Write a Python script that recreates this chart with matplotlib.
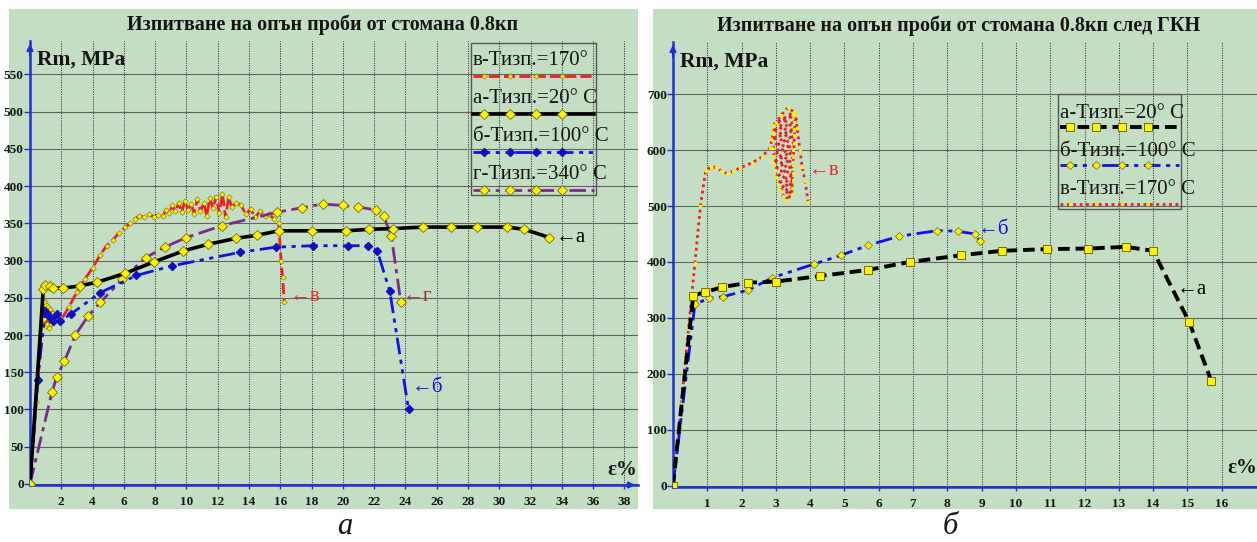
import numpy as np
import matplotlib.pyplot as plt
from matplotlib.patches import Rectangle
from matplotlib.lines import Line2D

plt.rcParams['font.family'] = ['Liberation Serif', 'DejaVu Serif']

W, H = 1257, 542
BG = '#C4DEC4'
AXIS = '#1F2FD8'
YEL = '#FFF200'
OLIVE = '#6E6E10'

# ---------------- panel a: steel 0.8kp ----------------
a_title = "Изпитване на опън проби от стомана 0.8кп"
a_xticks = list(range(2, 39, 2))
a_yticks = list(range(0, 551, 50))

# а - 20 C
a20_x = [0, 0.85, 0.97, 1.3, 1.5, 2.1, 3.2, 4.3, 6.1, 7.9, 9.8, 11.4, 13.2, 14.5, 15.9,
         18.0, 20.2, 21.7, 23.2, 25.1, 26.9, 28.6, 30.5, 31.6, 33.2]
a20_y = [0, 262, 267, 266, 263, 263, 266, 271, 283, 298, 313, 322, 330, 334, 340,
         340, 340, 342, 343, 345, 345, 345, 345, 342, 331]

# б - 100 C
a100_x = [0, 0.5, 0.96, 1.2, 1.5, 1.7, 1.9, 2.6, 4.5, 6.8, 9.1, 13.4, 15.7, 18.1, 20.3,
          21.6, 22.2, 23.0, 24.2]
a100_y = [0, 140, 232, 225, 219, 228, 219, 228, 257, 280, 293, 311, 318, 320, 320,
          320, 313, 259, 100]

# в - 170 C
a170_x = [0, 0.4, 0.75, 0.85, 0.9, 0.95, 1.0, 1.05, 1.1, 1.15,
          1.2, 1.3, 1.35, 1.45, 1.55, 1.65, 1.8, 2.0, 2.5, 3.0,
          3.5, 4.0, 4.5, 4.9, 5.3, 5.7, 6.1, 6.4, 6.7, 7.0,
          7.3, 7.6, 7.9, 8.2, 8.5, 8.7, 8.9, 9.1, 9.3, 9.5,
          9.7, 9.9, 10.1, 10.3, 10.5, 10.7, 10.9, 11.1, 11.3, 11.5,
          11.7, 11.9, 12.1, 12.3, 12.5, 12.7, 12.9, 13.2, 13.5, 13.8,
          14.1, 14.4, 14.7, 15.0, 15.3, 15.6, 15.9, 16.05, 16.15, 16.25]
a170_y = [0, 110, 215, 248, 222, 245, 212, 240, 215, 238,
          210, 235, 215, 230, 218, 228, 220, 221, 238, 258,
          275, 290, 308, 320, 328, 337, 345, 350, 356, 360,
          358, 362, 359, 361, 360, 368, 364, 374, 366, 377,
          365, 380, 368, 376, 363, 383, 366, 378, 360, 384,
          370, 386, 364, 390, 358, 385, 372, 378, 374, 362,
          369, 358, 366, 360, 362, 356, 350, 300, 278, 245]

# г - 340 C
a340_x = [0, 1.4, 1.7, 2.2, 2.9, 3.7, 4.5, 5.9, 7.4, 8.6, 10.0, 12.3, 15.8, 17.4, 18.7,
          20.0, 21.0, 22.1, 22.6, 23.1, 23.7]
a340_y = [0, 123, 143, 165, 200, 225, 244, 275, 304, 318, 331, 347, 365, 371, 376,
          374, 372, 368, 360, 333, 245]

# ---------------- panel б: after ГКН ----------------
b_title = "Изпитване на опън проби от стомана 0.8кп след ГКН"
b_xticks = list(range(1, 17))
b_yticks = list(range(0, 701, 100))

b20_x = [0, 0.59, 0.93, 1.43, 2.2, 3.0, 4.3, 5.7, 6.9, 8.4, 9.6, 10.9, 12.1, 13.2, 14.0,
         15.05, 15.7]
b20_y = [0, 340, 346, 355, 363, 365, 375, 386, 400, 412, 420, 423, 424, 427, 420,
         293, 187]

b100_x = [0, 0.64, 1.05, 1.46, 2.2, 2.9, 4.1, 4.9, 5.7, 6.6, 7.7, 8.3, 8.8, 8.95]
b100_y = [0, 325, 335, 338, 350, 372, 396, 412, 430, 446, 456, 455, 450, 437]

b170_x = [0, 0.25, 0.45, 0.64, 0.8, 0.95, 1.1, 1.25, 1.4, 1.57,
          1.75, 1.95, 2.3, 2.6, 2.83, 2.92, 3.0, 3.15, 3.35, 3.52,
          2.93, 3.5, 2.91, 3.52, 2.9, 3.52, 2.9, 3.52, 2.91, 3.52,
          2.93, 3.51, 2.96, 3.51, 3.0, 3.5, 3.06, 3.5, 3.13, 3.49,
          3.2, 3.48, 3.3, 3.46,
          3.57, 3.62, 3.7, 3.77, 3.85, 3.94]
b170_y = [0, 150, 280, 399, 500, 562, 570, 569, 563, 558,
          562, 568, 577, 588, 604, 628, 648, 662, 676, 668,
          645, 662, 632, 650, 618, 638, 604, 626, 590, 613,
          577, 600, 564, 587, 551, 573, 539, 559, 528, 546,
          518, 533, 511, 520,
          665, 640, 600, 569, 545, 508]

STY = {
    'a20': dict(color='black', lw=2.6, ls='-', marker='D', ms=4.6, mfc=YEL, mec=OLIVE, mew=0.6),
    'a100': dict(color='#1010E8', lw=2.0, ls=(0, (6, 2, 1.5, 2, 1.5, 2)), marker='D', ms=4.2,
                 mfc='#1010C0', mec='#1010C0'),
    'a170': dict(color='#F02020', lw=2.0, ls=(0, (4, 1.5)), marker='D', ms=2.8, mfc=YEL,
                 mec=OLIVE, mew=0.4),
    'a340': dict(color='#7A2A8A', lw=2.0, ls=(0, (6, 2, 1.5, 2)), marker='D', ms=4.6, mfc=YEL,
                 mec=OLIVE, mew=0.6),
    'b20': dict(color='black', lw=2.8, ls=(0, (3, 1.5)), marker='s', ms=5.5, mfc=YEL, mec=OLIVE,
                mew=0.7),
    'b100': dict(color='#1010E8', lw=2.0, ls=(0, (6, 2, 1.5, 2, 1.5, 2)), marker='D', ms=3.8,
                 mfc=YEL, mec=OLIVE, mew=0.5),
    'b170': dict(color='#E82020', lw=2.0, ls=(0, (1, 1.3)), marker='o', ms=2.5, mfc=YEL,
                 mec=YEL, mew=0),
}


def fx(px):
    return px / W


def fy(py):
    return 1 - py / H


def style_axes(ax, xlim, ylim, xticks, yticks):
    ax.set_xlim(*xlim)
    ax.set_ylim(*ylim)
    ax.set_facecolor('none')
    ax.spines['top'].set_visible(False)
    ax.spines['right'].set_visible(False)
    for s in ['left', 'bottom']:
        ax.spines[s].set_color(AXIS)
        ax.spines[s].set_linewidth(1.8)
    ax.set_xticks(xticks)
    ax.set_yticks(yticks)
    ax.xaxis.grid(True, color='#303030', lw=0.75, ls=(0, (1, 1.3)))
    ax.yaxis.grid(True, color='#626262', lw=0.8, ls='-')
    ax.set_axisbelow(True)
    ax.tick_params(axis='y', colors=AXIS, length=4, width=1, pad=0.5,
                   labelcolor='#151515', labelsize=9.5)
    ax.tick_params(axis='x', colors=AXIS, length=3, width=1, pad=5,
                   labelcolor='#151515', labelsize=9.5)
    for lab in ax.get_xticklabels() + ax.get_yticklabels():
        lab.set_fontweight('bold')
    ax.annotate('', xy=(0, 1.0), xycoords='axes fraction', xytext=(0, 0.96),
                arrowprops=dict(arrowstyle='-|>', color=AXIS, lw=1.5, mutation_scale=9),
                annotation_clip=False)


def draw_legend(ax, box, rows, txt_frac, line_frac):
    x0, y0, x1, y1 = box
    ax.add_patch(Rectangle((x0, y0), x1 - x0, y1 - y0, transform=ax.transAxes, fill=False,
                           ec='#555555', lw=1.0, zorder=6))
    h = (y1 - y0) / len(rows)
    w = x1 - x0
    for i, (label, key) in enumerate(rows):
        top = y1 - i * h
        ax.text(x0 + 0.003, top - h * txt_frac, label, transform=ax.transAxes, ha='left',
                va='center', fontsize=15, color='#151515', zorder=7)
        xs = [x0 + 0.004, x0 + w * 0.1, x0 + w * 0.31, x0 + w * 0.52, x0 + w * 0.73, x1 - 0.004]
        yl = top - h * line_frac
        ax.add_line(Line2D(xs, [yl] * len(xs), transform=ax.transAxes, markevery=[1, 2, 3, 4],
                           zorder=7, **STY[key]))


def main():
    fig = plt.figure(figsize=(W / 100, H / 100), dpi=100)
    fig.patch.set_facecolor('white')

    # green panels
    fig.add_artist(Rectangle((fx(9), fy(509)), fx(629), 500 / H, transform=fig.transFigure,
                             fc=BG, ec='none', zorder=0))
    fig.add_artist(Rectangle((fx(653), fy(509)), fx(604), 500 / H, transform=fig.transFigure,
                             fc=BG, ec='none', zorder=0))

    # ---- panel a ----
    axa = fig.add_axes([fx(30), fy(485), fx(608), 444 / H])
    style_axes(axa, (0, 38.87), (-1.5, 595), a_xticks, a_yticks)
    axa.plot(a170_x, a170_y, zorder=3, **STY['a170'])
    axa.plot(a340_x, a340_y, zorder=3, **STY['a340'])
    axa.plot(a100_x, a100_y, zorder=4, **STY['a100'])
    axa.plot(a20_x, a20_y, zorder=4, **STY['a20'])
    axa.text(33.6, 331, "←а", color='black', fontsize=15, va='center')
    axa.text(16.6, 252, "←в", color='#E03030', fontsize=15, va='center')
    axa.text(23.8, 252, "←г", color='#A83030', fontsize=15, va='center')
    axa.text(24.4, 129, "←б", color='#1010E8', fontsize=15, va='center')
    axa.annotate('', xy=(1.0, 0), xycoords='axes fraction', xytext=(0.98, 0),
                 arrowprops=dict(arrowstyle='-|>', color=AXIS, lw=1.5, mutation_scale=9),
                 annotation_clip=False)
    draw_legend(axa, ((471 - 30) / 608, (485 - 195) / 444, (596 - 30) / 608, (485 - 43) / 444),
                [("в-Тизп.=170°", 'a170'), ("а-Тизп.=20° С", 'a20'),
                 ("б-Тизп.=100° С", 'a100'), ("г-Тизп.=340° С", 'a340')], 0.47, 0.88)

    fig.text(fx(323), fy(25), a_title, ha='center', va='center', fontsize=14.5,
             fontweight='bold', color='#151515')
    fig.text(fx(37), fy(60), "Rm, MPa", ha='left', va='center', fontsize=15.5,
             fontweight='bold', color='#151515')
    fig.text(fx(607), fy(470), "ε%", ha='left', va='center', fontsize=15,
             fontweight='bold', color='#151515')
    fig.text(fx(345), fy(527), "а", ha='center', va='center', fontsize=22,
             style='italic', color='#151515')

    # ---- panel б ----
    axb = fig.add_axes([fx(673), fy(487), fx(584), 445 / H])
    style_axes(axb, (0, 17.03), (-2, 793), b_xticks, b_yticks)
    axb.plot(b170_x, b170_y, zorder=3, **STY['b170'])
    axb.plot(b100_x, b100_y, zorder=4, **STY['b100'])
    axb.plot(b20_x, b20_y, zorder=4, **STY['b20'])
    axb.text(3.97, 563, "←в", color='#E03030', fontsize=15, va='center')
    axb.text(8.9, 458, "←б", color='#1010E8', fontsize=15, va='center')
    axb.text(14.7, 351, "←а", color='black', fontsize=15, va='center')
    draw_legend(axb, ((1058 - 673) / 584, (487 - 209) / 445, (1181 - 673) / 584, (487 - 94) / 445),
                [("а-Тизп.=20° С", 'b20'), ("б-Тизп.=100° С", 'b100'),
                 ("в-Тизп.=170° С", 'b170')], 0.5, 0.86)

    fig.text(fx(959), fy(26), b_title, ha='center', va='center', fontsize=14.5,
             fontweight='bold', color='#151515')
    fig.text(fx(680), fy(62), "Rm, MPa", ha='left', va='center', fontsize=15.5,
             fontweight='bold', color='#151515')
    fig.text(fx(1227), fy(468), "ε%", ha='left', va='center', fontsize=15,
             fontweight='bold', color='#151515')
    fig.text(fx(950), fy(527), "б", ha='center', va='center', fontsize=22,
             style='italic', color='#151515')

    fig.savefig('out.png', dpi=100)
    plt.close(fig)


if __name__ == "__main__":
    main()
